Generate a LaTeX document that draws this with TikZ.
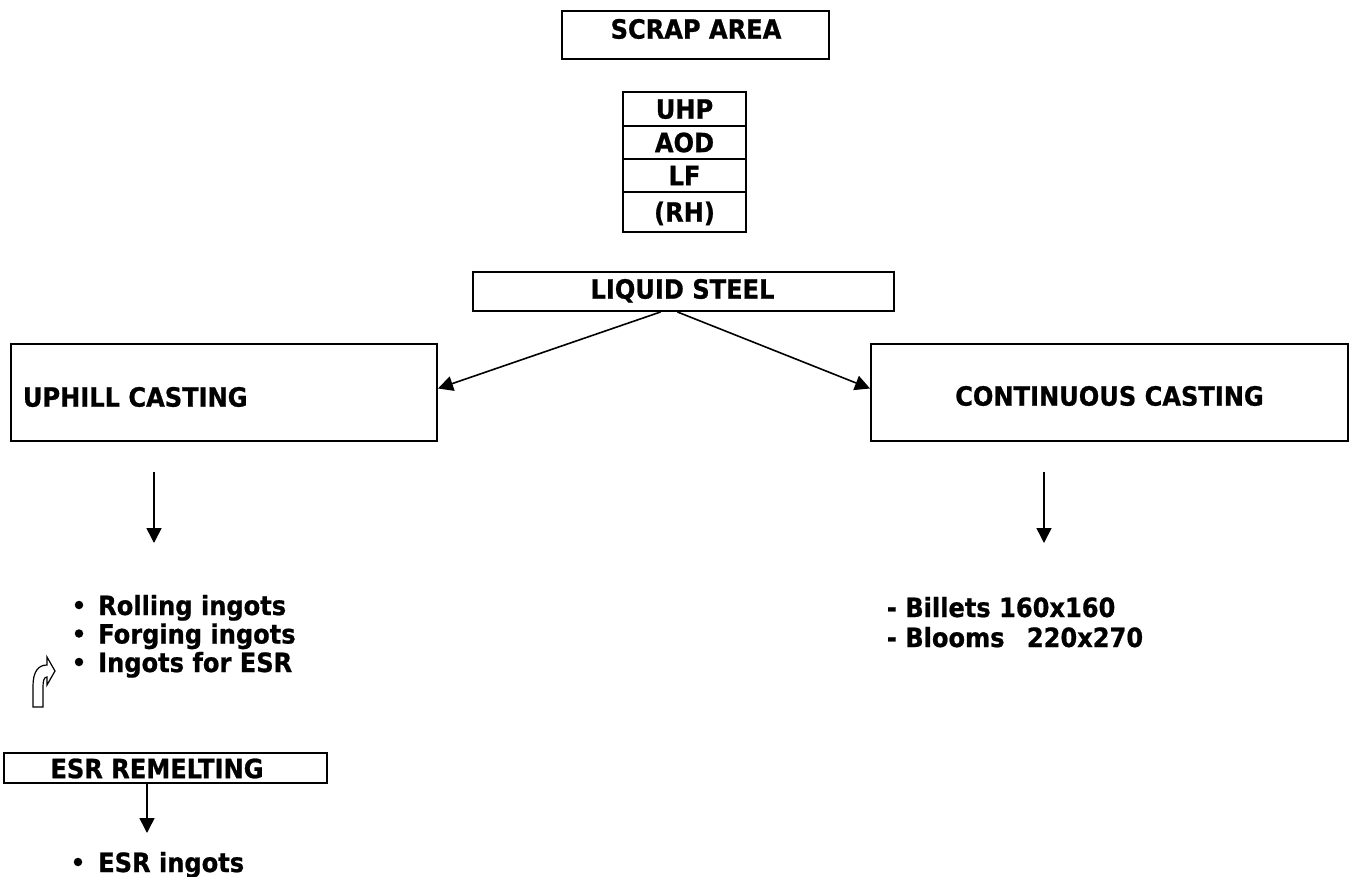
\documentclass[tikz,border=0pt]{standalone}
\usepackage{fontspec}
\setmainfont{DejaVu Sans}[FakeStretch=0.91, BoldFeatures={FakeBold=0.8}]
\usetikzlibrary{arrows.meta}
\begin{document}
\begin{tikzpicture}[x=1pt,y=-1pt,
  every node/.style={font=\fontsize{26.5}{30}\selectfont\bfseries, inner sep=0pt},
  boxnode/.style={draw, line width=2pt, rectangle},
  lbl/.style={text height=19.3pt, text depth=0pt, anchor=center},
  txt/.style={anchor=base west},
  bul/.style={circle, fill, minimum size=8.5pt, inner sep=0pt},
  conn/.style={line width=1.6pt, -{Triangle[length=15pt,width=15pt]}}
]
\useasboundingbox (0,0) rectangle (1354,877);

% scrap area
\node[boxnode, minimum width=267pt, minimum height=48pt] (scrap) at (695.5,35) {};
\node[lbl] (scraptxt) at (696,29) {SCRAP AREA};

% furnace stack
\node[boxnode, lbl, minimum width=123pt, minimum height=34pt] (uhp) at (684.5,109) {UHP};
\node[boxnode, lbl, minimum width=123pt, minimum height=33pt] (aod) at (684.5,142.5) {AOD};
\node[boxnode, lbl, minimum width=123pt, minimum height=33pt] (lf) at (684.5,175.5) {LF};
\node[boxnode, lbl, minimum width=123pt, minimum height=40pt] (rh) at (684.5,212) {(RH)};

% liquid steel
\node[boxnode, minimum width=421pt, minimum height=39pt] (liquid) at (683.5,291.5) {};
\node[lbl] (liquidtxt) at (682.5,289) {LIQUID STEEL};

% casting boxes
\node[boxnode, minimum width=426pt, minimum height=97pt] (uphill) at (224,392.5) {};
\node[lbl, anchor=west] (uphilltxt) at (22.7,397) {UPHILL CASTING};
\node[boxnode, minimum width=477pt, minimum height=97pt] (cont) at (1109.5,392.5) {};
\node[lbl] (conttxt) at (1109.5,396) {CONTINUOUS CASTING};

\draw[conn] ([xshift=-23pt]liquid.south) -- ([yshift=4pt]uphill.east);
\draw[conn] ([xshift=-6pt]liquid.south) -- ([yshift=4pt]cont.west);

% down arrows
\coordinate (d1s) at (154,472);
\coordinate (d1e) at (154,543);
\coordinate (d2s) at (1044,472);
\coordinate (d2e) at (1044,543);
\draw[conn] (d1s) -- (d1e);
\draw[conn] (d2s) -- (d2e);

% left list
\node[bul] (b1) at (79,605) {};
\node[txt] (t1) at (98,615) {Rolling ingots};
\node[bul] (b2) at (79,633.5) {};
\node[txt] (t2) at (98,643.5) {Forging ingots};
\node[bul] (b3) at (79,662) {};
\node[txt] (t3) at (98,672) {Ingots for ESR};

% turn arrow (outline)
\draw[line width=1.2pt, fill=white, line join=miter]
  (33,707) -- (33,686) .. controls (33,672) and (38,665) .. (47,665)
  -- (47,657) -- (55,671) -- (47,685) -- (47,677)
  .. controls (44,677) and (43,681) .. (43,687) -- (43,707) -- cycle;

% right list
\node[txt] (r1) at (886.7,617) {- Billets 160x160};
\node[txt] (r2) at (886.7,647) {\makebox[140pt][l]{- Blooms}220x270};

% ESR remelting
\node[boxnode, minimum width=323pt, minimum height=30pt] (esr) at (165.5,768) {};
\node[lbl] (esrtxt) at (157,768.5) {ESR REMELTING};
\coordinate (d3e) at (147,833);
\draw[conn] ([xshift=-18.5pt]esr.south) -- (d3e);

\node[bul] (b4) at (78,862) {};
\node[txt] (t4) at (98,872) {ESR ingots};
\end{tikzpicture}
\end{document}
